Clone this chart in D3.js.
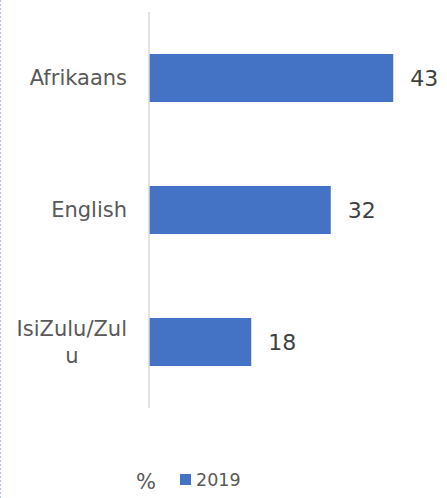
<!DOCTYPE html>
<html>
<head>
<meta charset="utf-8">
<script src="https://cdn.jsdelivr.net/npm/d3@7"></script>
<style>
  body { margin: 0; background: #fff; }
  svg { display: block; font-family: "DejaVu Sans", sans-serif; }
</style>
</head>
<body>
<svg width="447" height="498"></svg>
<script>
// data
var languages = ["Afrikaans", "English", "IsiZulu/Zulu"];
var labelLines = [["Afrikaans"], ["English"], ["IsiZulu/Zul", "u"]];
var values2019 = [43, 32, 18];
var seriesName = "2019";

var svg = d3.select("svg"),
    width = +svg.attr("width"),
    height = +svg.attr("height");

var axisX = 149;
var labelRight = 127;

var x = d3.scaleLinear().domain([0, 50]).range([axisX, axisX + 284]);
var y = d3.scaleBand().domain(languages).range([12, 408])
    .paddingInner(0.636).paddingOuter(0.318);

// faint dashed border on the left edge
svg.append("line")
    .attr("x1", 0.5).attr("x2", 0.5).attr("y1", 0).attr("y2", height)
    .attr("stroke", "#b4c7e7").attr("stroke-dasharray", "2,2");

// bars
svg.append("g").selectAll("rect")
    .data(values2019)
    .enter().append("rect")
    .attr("x", x(0))
    .attr("y", function(d, i) { return y(languages[i]); })
    .attr("width", function(d) { return x(d) - x(0); })
    .attr("height", y.bandwidth())
    .attr("fill", "#4472C4");

// vertical axis line
svg.append("line")
    .attr("x1", axisX).attr("x2", axisX).attr("y1", 12).attr("y2", 408)
    .attr("stroke", "#d9d9d9").attr("stroke-width", 1.5);

// category labels: block right aligned, lines centred among themselves
var cat = svg.append("g").selectAll("text")
    .data(labelLines)
    .enter().append("text")
    .attr("text-anchor", "middle")
    .attr("fill", "#595959")
    .attr("font-size", 21);

cat.selectAll("tspan")
    .data(function(d) { return d; })
    .enter().append("tspan")
    .attr("x", 0)
    .attr("dy", function(d, i) { return i === 0 ? "0.35em" : 27; })
    .text(function(d) { return d; });

cat.attr("transform", function(d, i) {
    var w = 0;
    d3.select(this).selectAll("tspan").each(function() {
        w = Math.max(w, this.getComputedTextLength());
    });
    var cy = y(languages[i]) + y.bandwidth() / 2;
    return "translate(" + (labelRight - w / 2) + "," + (cy - (d.length - 1) * 13) + ")";
});

// value labels
svg.append("g").selectAll("text")
    .data(values2019)
    .enter().append("text")
    .attr("x", function(d) { return x(d) + 17; })
    .attr("y", function(d, i) { return y(languages[i]) + y.bandwidth() / 2; })
    .attr("dy", "0.35em")
    .attr("fill", "#404040")
    .attr("font-size", 22)
    .text(function(d) { return d; });

// legend
var legend = svg.append("g");
legend.append("text")
    .attr("x", 146).attr("y", 482).attr("dy", "0.35em")
    .attr("text-anchor", "middle")
    .attr("fill", "#595959").attr("font-size", 21)
    .text("%");
legend.append("rect")
    .attr("x", 180).attr("y", 474).attr("width", 11).attr("height", 11)
    .attr("fill", "#4472C4");
legend.append("text")
    .attr("x", 196).attr("y", 480).attr("dy", "0.35em")
    .attr("fill", "#595959").attr("font-size", 17.5)
    .text(seriesName);
</script>
</body>
</html>
